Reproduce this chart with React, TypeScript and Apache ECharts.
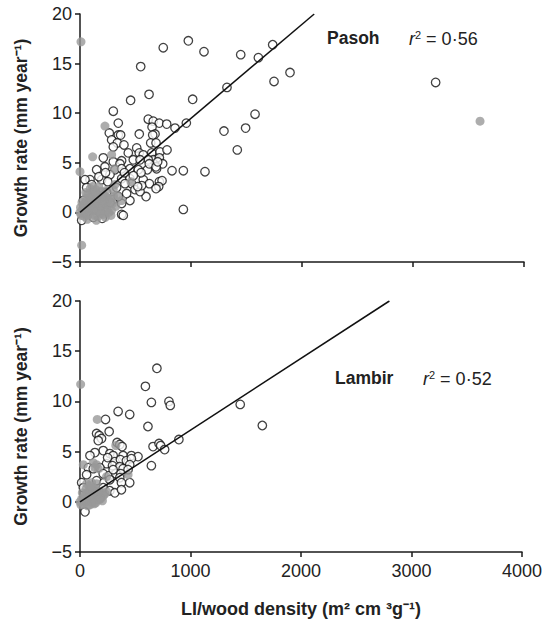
import React, { useEffect, useRef } from "react";
import * as echarts from "echarts";

// ---------- data ----------
const xTicks = [0, 1000, 2000, 3000, 4000];
const yTicks = [-5, 0, 5, 10, 15, 20];

const pasohOpen: number[][] = [
  [750, 16.6], [976, 17.3], [1117, 16.2], [547, 14.7], [1448, 15.9], [1607, 15.6], [1736, 16.9],
  [1748, 13.2], [1892, 14.1], [1324, 12.6], [622, 11.9], [456, 11.3], [1015, 11.4], [300, 10.2],
  [1577, 9.9], [1297, 8.2], [1492, 8.5], [1417, 6.3], [958, 9.0], [856, 8.5], [931, 4.2],
  [1126, 4.1], [829, 4.2], [931, 0.3], [3204, 13.1],
  [345, 9.0], [615, 9.4], [660, 9.2], [714, 9.0], [781, 8.9], [649, 8.6], [264, 8.0], [345, 7.8],
  [366, 7.8], [534, 7.9], [285, 7.3], [336, 7.0], [396, 6.8], [676, 7.9], [655, 7.8], [637, 7.0],
  [685, 7.0], [300, 6.6], [435, 6.0], [511, 6.5], [534, 6.0], [570, 5.8], [646, 6.0], [721, 6.1],
  [784, 6.3], [661, 5.3], [715, 5.5], [745, 4.9], [615, 5.3], [480, 5.3], [541, 5.3], [375, 5.2],
  [300, 5.1], [360, 4.9], [210, 5.5], [225, 4.6], [150, 4.3], [315, 4.3], [375, 4.4], [450, 4.4],
  [526, 4.3], [607, 4.3], [690, 4.4], [90, 3.3], [45, 3.3], [105, 2.8], [195, 3.3], [270, 3.8],
  [375, 3.4], [450, 3.4], [465, 2.9], [570, 3.3], [625, 2.9], [715, 3.1], [739, 3.2], [709, 2.6],
  [685, 2.4], [595, 1.6], [450, 1.2], [375, -0.2], [390, -0.3], [15, -0.8], [495, 2.3], [541, 2.1],
  [420, 1.9], [556, 2.7], [330, 2.5], [405, 2.9], [300, 1.3], [375, 0.9], [345, 1.6], [550, 4.0],
  [624, 4.9], [685, 4.6], [700, 5.1], [250, 3.1], [170, 3.6], [60, 2.5], [240, 2.0], [270, 1.0],
  [200, -0.6], [120, -0.5], [30, 1.2], [230, 4.0], [400, 4.0], [480, 3.7], [520, 2.6]
];

const pasohFilled: number[][] = [
  [9, 17.2], [0, 4.1], [15, -3.3], [225, 8.7], [114, 5.6], [285, 5.8], [310, 4.4], [315, 2.8],
  [460, 3.1], [375, 1.2], [3604, 9.2],
  [0, 0.0], [22, 0.3], [38, -0.4], [57, 0.6], [83, 1.1], [98, 1.6], [121, 2.0], [142, 2.3],
  [158, 1.8], [183, 1.2], [199, 0.7], [218, 0.4], [243, 1.5], [262, 0.9], [283, 0.2], [302, 1.6],
  [31, 0.8], [52, 1.4], [71, 1.9], [93, 2.4], [108, 0.2], [133, -0.3], [151, 0.5], [172, 0.1],
  [191, 2.1], [212, 1.8], [228, -0.5], [251, 1.2], [12, -0.3], [46, 0.1], [66, -0.7], [87, -0.2],
  [104, 0.9], [126, 1.3], [147, -0.8], [168, 2.6], [186, 0.4], [207, -0.2], [77, 0.3], [96, 0.7],
  [117, 1.1], [137, 0.9], [155, 1.4], [177, 1.7], [196, 1.5], [216, 1.1], [236, 0.8], [279, -0.3],
  [322, 0.6], [338, 1.7], [5, 0.5], [18, 1.0], [27, -0.1], [42, 0.9], [61, 1.2], [74, 0.8],
  [89, 1.5], [112, 1.8], [129, 0.6], [144, 1.2], [163, 0.9], [179, 0.6], [203, 1.3], [224, 1.6],
  [247, 0.2], [268, 1.4], [292, 0.9], [110, 2.6], [135, 2.0], [160, -0.4], [85, 0.4], [52, 2.0],
  [190, -0.1], [235, 2.2], [260, 0.0], [300, 2.3], [70, -0.3], [120, 0.2]
];

const lambirOpen: number[][] = [
  [696, 13.3], [592, 11.5], [646, 9.9], [805, 10.0], [817, 9.6], [345, 9.0], [450, 8.7], [231, 8.2],
  [615, 7.5], [264, 7.0], [150, 6.8], [174, 6.6], [195, 6.3], [165, 6.1], [336, 5.9], [360, 5.7],
  [381, 5.5], [661, 5.5], [715, 5.8], [730, 5.6], [766, 5.2], [895, 6.2], [646, 3.6], [1450, 9.7],
  [1650, 7.6], [210, 5.1], [135, 4.9], [90, 4.6], [270, 4.8], [300, 4.6], [390, 4.6], [465, 4.6],
  [525, 4.5], [315, 4.0], [366, 4.2], [420, 4.1], [465, 4.3], [240, 3.8], [294, 3.6], [360, 3.5],
  [450, 3.7], [390, 3.3], [435, 3.2], [75, 3.4], [120, 3.3], [180, 3.4], [210, 2.8], [264, 2.6],
  [324, 2.8], [369, 2.8], [150, 2.1], [216, 1.9], [270, 2.2], [360, 2.4], [375, 1.9], [450, 1.9],
  [210, 1.4], [270, 1.1], [315, 0.9], [375, 1.2], [180, 0.4], [45, -1.0], [15, 1.9], [30, 1.4],
  [300, 3.2], [250, 4.4], [60, 2.7]
];

const lambirFilled: number[][] = [
  [6, 11.7], [156, 8.2], [324, 5.6], [30, 3.7], [120, 3.9], [150, 3.7], [135, 3.4], [165, 3.3],
  [240, 2.5], [435, 2.7], [60, 1.8], [105, 1.9], [150, 1.8], [120, 1.4],
  [0, 0.0], [16, 0.3], [29, -0.2], [44, 0.6], [62, 0.9], [76, 0.2], [91, -0.3], [104, 0.5],
  [121, 0.8], [137, 1.0], [149, 0.4], [166, 0.7], [182, 1.0], [196, 0.9], [211, 0.6], [226, 0.8],
  [241, 1.0], [21, 0.9], [52, 0.0], [81, 1.1], [99, 0.1], [129, -0.2], [161, 1.1], [188, 0.3],
  [69, -0.4], [112, -0.1], [8, -0.3], [37, 0.2], [57, 1.3], [86, 0.6], [113, 1.2], [143, -0.1],
  [172, 0.2], [203, 0.1], [90, 1.6]
];

const pasohFit: number[][] = [[0, 0], [2110, 20]];
const lambirFit: number[][] = [[0, 0], [2800, 20]];

const FONT = "'Liberation Sans', Arial, Helvetica, sans-serif";

export default function App() {
  const ref = useRef<HTMLDivElement>(null);
  useEffect(() => {
    const chart = echarts.init(ref.current!, null, { renderer: "svg" });
    const axisLine = { show: true, onZero: false, lineStyle: { color: "#1a1a1a", width: 1.5 } };
    const axisTick = { show: true, inside: false, length: 5, lineStyle: { color: "#1a1a1a", width: 1.5 } };
    const mkX = (idx: number, showLabel: boolean) => ({
      type: "value",
      gridIndex: idx,
      min: xTicks[0],
      max: xTicks[xTicks.length - 1],
      interval: 1000,
      axisLine,
      axisTick,
      splitLine: { show: false },
      axisLabel: { show: showLabel, fontSize: 18, color: "#222", fontFamily: FONT, margin: 10, formatter: (v: number) => String(v) },
      name: showLabel ? "LI/wood density (m² cm ³g⁻¹)" : "",
      nameLocation: "middle",
      nameGap: 48,
      nameTextStyle: { fontSize: 18, fontWeight: "bold", color: "#222", fontFamily: FONT },
    });
    const mkY = (idx: number) => ({
      type: "value",
      gridIndex: idx,
      min: yTicks[0],
      max: yTicks[yTicks.length - 1],
      interval: 5,
      axisLine,
      axisTick,
      splitLine: { show: false },
      axisLabel: {
        fontSize: 18, color: "#222", fontFamily: FONT, margin: 8,
        formatter: (v: number) => (v < 0 ? "\u2212" + Math.abs(v) : String(v)),
      },
      name: "Growth rate (mm year⁻¹)",
      nameLocation: "middle",
      nameGap: 50,
      nameTextStyle: { fontSize: 17.5, fontWeight: "bold", color: "#222", fontFamily: FONT },
    });
    const openStyle = { color: "#fff", borderColor: "#111", borderWidth: 1.3 };
    const fillStyle = { color: "#999", borderColor: "#999", borderWidth: 0 };
    const ann = (x: number, y: number, site: string, r2x: number, r2: string) => [
      {
        type: "text", left: x, top: y,
        style: { text: site, font: `bold 17.5px ${FONT}`, fill: "#222" },
      },
      {
        type: "text", left: r2x, top: y,
        style: {
          text: `{i|r}{s|2}{n| = ${r2}}`,
          rich: {
            i: { fontStyle: "italic", fontSize: 18, fontFamily: FONT, fill: "#222" },
            s: { fontSize: 11, fontFamily: FONT, fill: "#222", verticalAlign: "top", padding: [0, 0, 8, 0] },
            n: { fontSize: 18, fontFamily: FONT, fill: "#222" },
          },
        },
      },
    ];
    chart.setOption({
      animation: false,
      textStyle: { fontFamily: FONT },
      grid: [
        { left: 80, top: 14, width: 444, height: 248 },
        { left: 80, top: 301, width: 444, height: 251 },
      ],
      xAxis: [mkX(0, false), mkX(1, true)],
      yAxis: [mkY(0), mkY(1)],
      series: [
        { type: "scatter", xAxisIndex: 0, yAxisIndex: 0, data: pasohOpen, symbolSize: 8.5, itemStyle: openStyle, z: 2 },
        { type: "scatter", xAxisIndex: 0, yAxisIndex: 0, data: pasohFilled, symbolSize: 9, itemStyle: fillStyle, z: 3 },
        { type: "line", xAxisIndex: 0, yAxisIndex: 0, data: pasohFit, symbol: "none", lineStyle: { color: "#111", width: 1.5 }, z: 4 },
        { type: "scatter", xAxisIndex: 1, yAxisIndex: 1, data: lambirOpen, symbolSize: 8.5, itemStyle: openStyle, z: 2 },
        { type: "scatter", xAxisIndex: 1, yAxisIndex: 1, data: lambirFilled, symbolSize: 9, itemStyle: fillStyle, z: 3 },
        { type: "line", xAxisIndex: 1, yAxisIndex: 1, data: lambirFit, symbol: "none", lineStyle: { color: "#111", width: 1.5 }, z: 4 },
      ],
      graphic: [
        ...ann(327, 29, "Pasoh", 409, "0·56"),
        ...ann(335, 369, "Lambir", 423, "0·52"),
      ],
    });
    return () => chart.dispose();
  }, []);
  return <div ref={ref} style={{ position: "absolute", left: 0, top: 0, width: 545, height: 622 }} />;
}
